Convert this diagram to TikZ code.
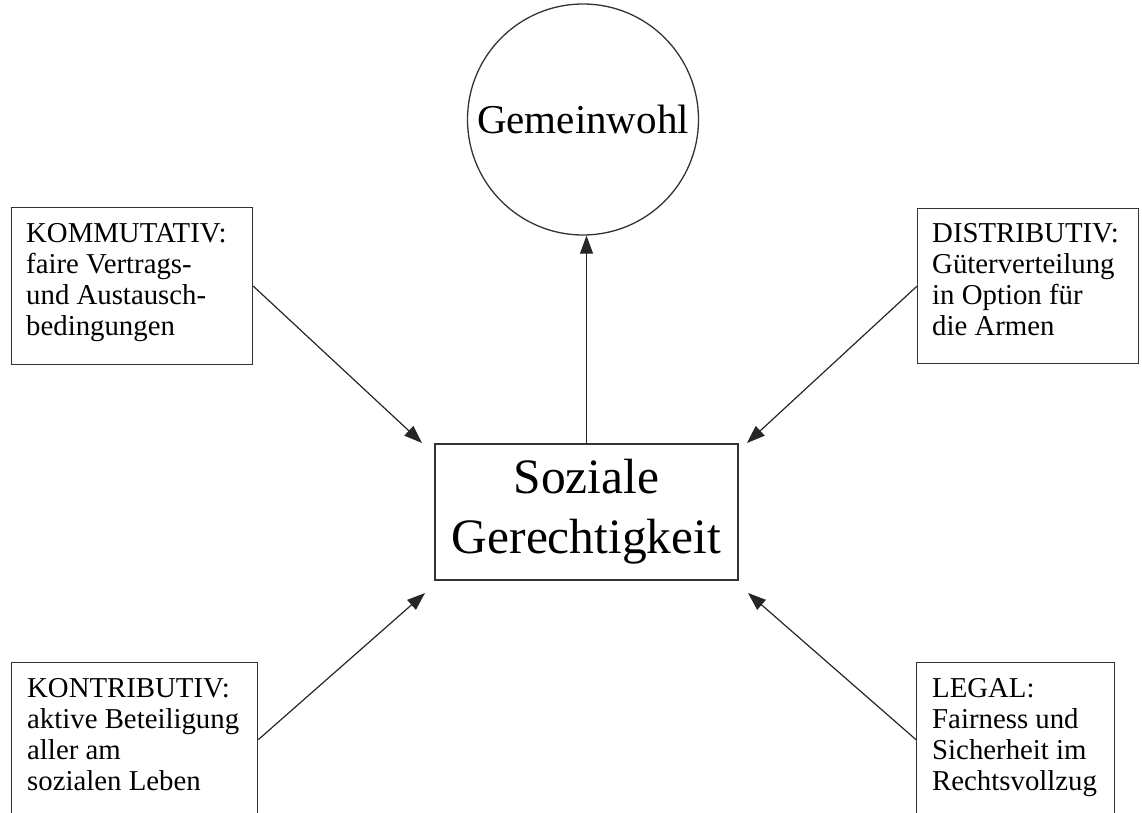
\documentclass[tikz,border=0pt]{standalone}
\usepackage{fontspec}
\setmainfont{Liberation Serif}
\usetikzlibrary{arrows.meta}
\begin{document}
\begin{tikzpicture}[x=1pt,y=-1pt,
  box/.style={draw=black!80, line width=1.3pt, rectangle, inner sep=0pt, anchor=north west},
  txt/.style={inner sep=0pt, anchor=north west, align=left, font=\fontsize{28.8}{31.2}\selectfont},
  arr/.style={draw=black!85, line width=1.2pt, -{Triangle[length=18pt,width=13pt]}}]
\useasboundingbox (0,0) rectangle (1142,813);
\clip (0,0) rectangle (1142,813);
% central node
\node[draw=black!80, line width=1.3pt, rectangle, minimum width=303pt, minimum height=136pt, inner sep=0pt,
  align=center, font=\fontsize{49.5}{60}\selectfont] (soz) at (586.5,512) {Soziale\\Gerechtigkeit};
% circle
\node[draw=black!80, line width=1.3pt, circle, minimum size=231pt, inner sep=0pt,
  font=\fontsize{41}{48}\selectfont] (gem) at (583,119.5) {Gemeinwohl};
% boxes
\node[box, minimum width=241pt, minimum height=157pt] (kom) at (11,207) {};
\node[box, minimum width=221pt, minimum height=155pt] (dis) at (917,208) {};
\node[box, minimum width=246pt, minimum height=154pt] (kon) at (11,662) {};
\node[box, minimum width=198pt, minimum height=154pt] (leg) at (916,662) {};
% texts
\node[txt] (komt) at (26,220) {\strut KOMMUTATIV:\\faire Vertrags-\\und Austausch-\\bedingungen};
\node[txt] (dist) at (932,220) {\strut DISTRIBUTIV:\\Güterverteilung\\in Option für\\die Armen};
\node[txt] (kont) at (27,675) {\strut KONTRIBUTIV:\\aktive Beteiligung\\aller am\\sozialen Leben};
\node[txt] (legt) at (932,675) {\strut LEGAL:\\Fairness und\\Sicherheit im\\Rechtsvollzug};
% arrow tips
\coordinate (c1) at (422,443);
\coordinate (c2) at (747,443);
\coordinate (c3) at (425,593);
\coordinate (c4) at (748,593);
% connectors
\draw[arr] (soz.north) -- (soz.north |- gem.south);
\draw[arr] (kom.east) -- (c1);
\draw[arr] (dis.west) -- (c2);
\draw[arr] (kon.east) -- (c3);
\draw[arr] (leg.west) -- (c4);
\end{tikzpicture}
\end{document}
